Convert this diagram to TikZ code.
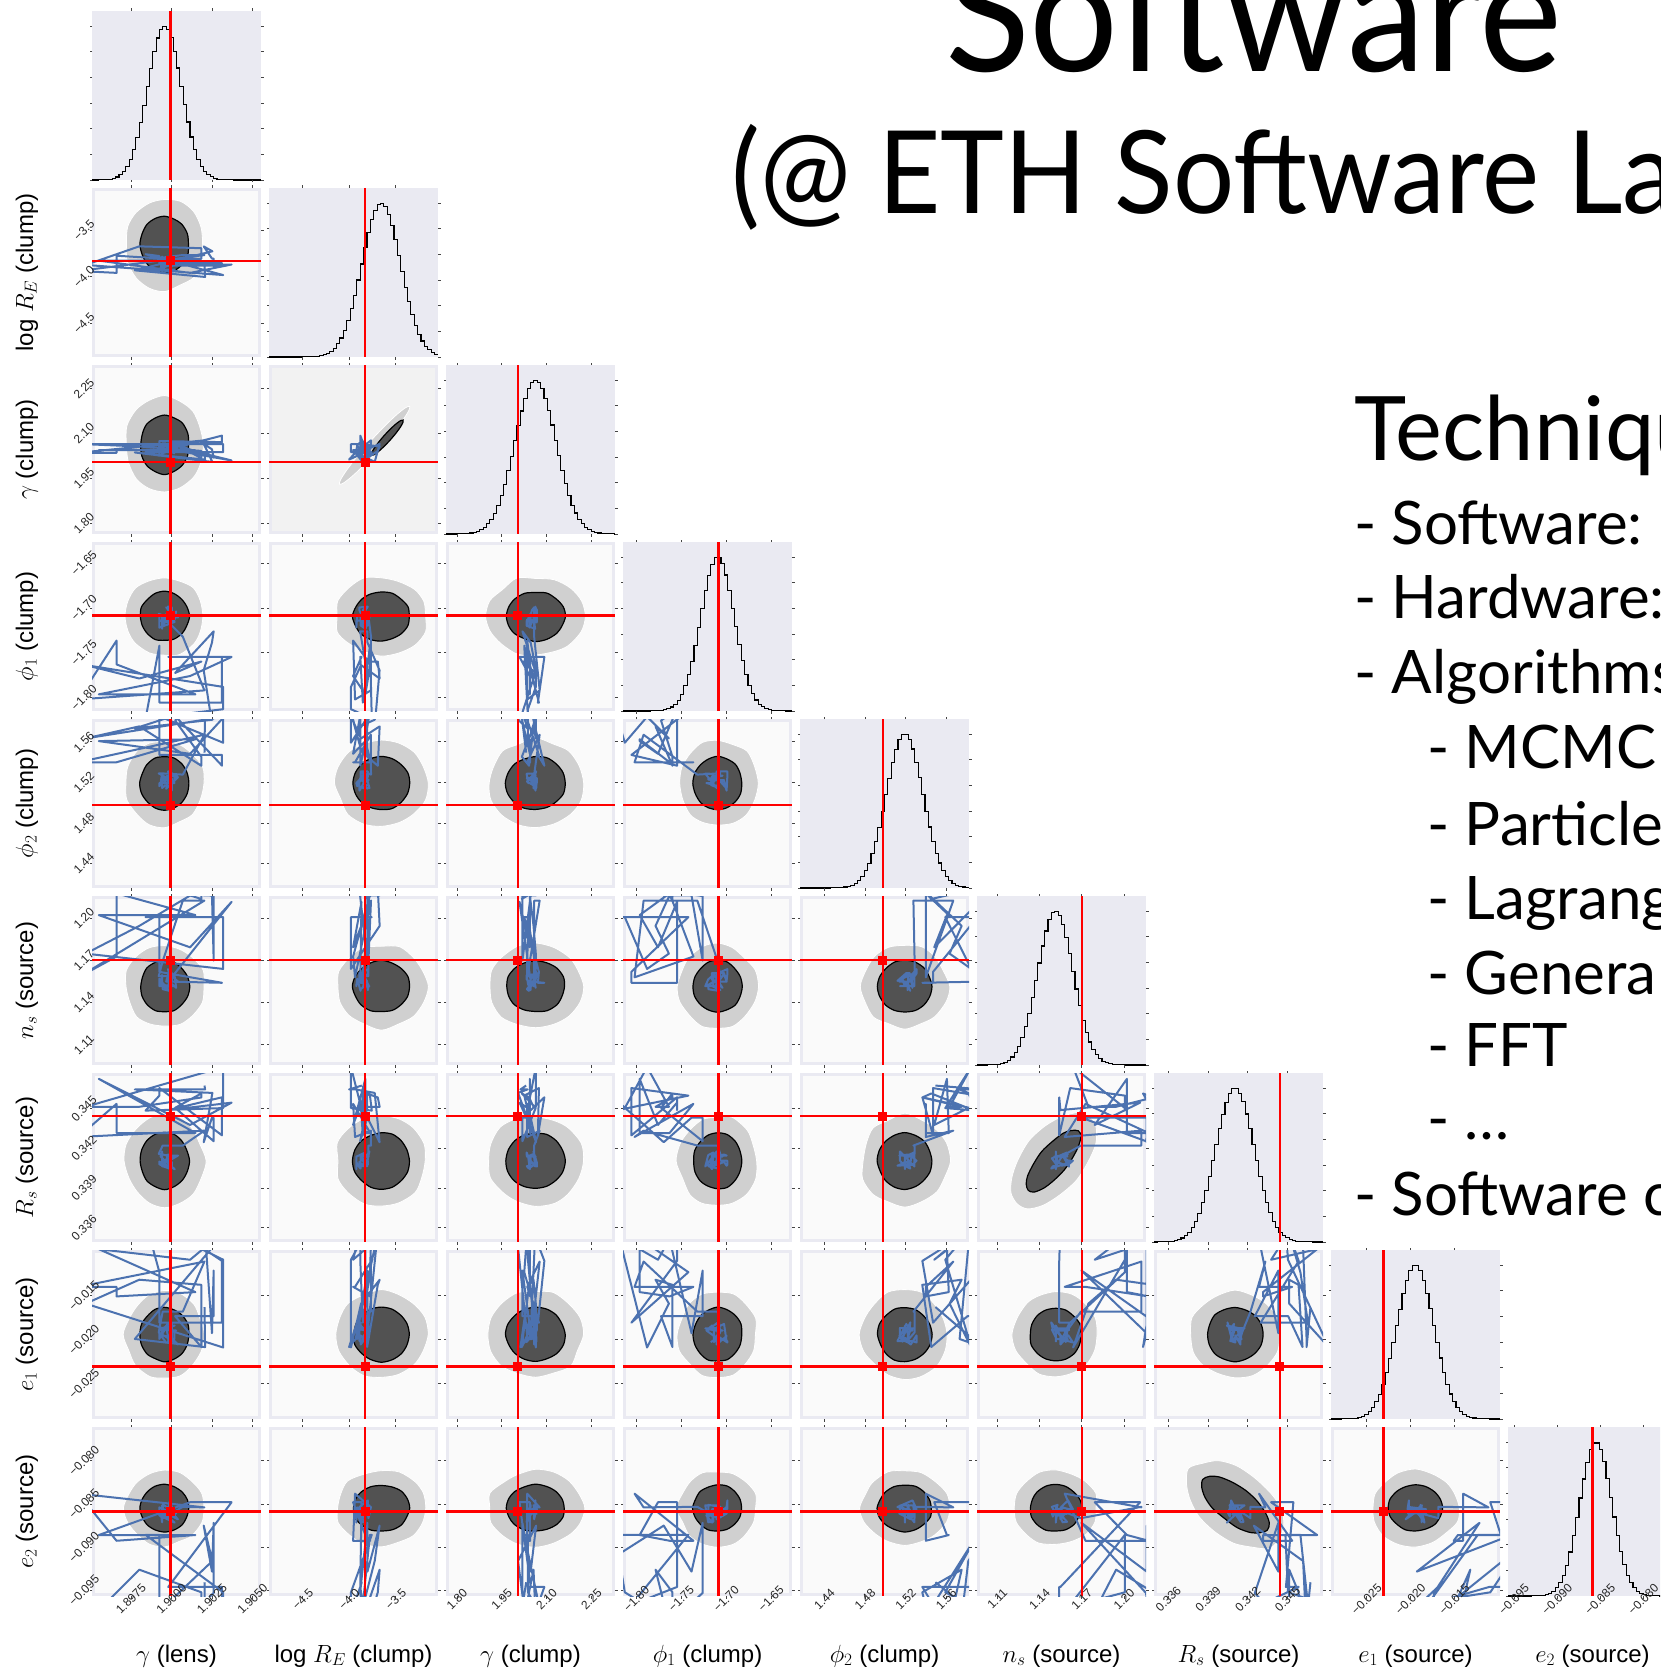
\documentclass[tikz,border=0pt]{standalone}
\usepackage{fontspec}
\newfontfamily\axfont{Liberation Sans}
\newfontfamily\gill{Lato}
\newfontfamily\gillhead{Lato}[FakeStretch=0.995]
\newfontfamily\gilltitle{Lato}[FakeStretch=0.94]

\definecolor{lavender}{HTML}{EAEAF2}
\definecolor{panelbg}{HTML}{FAFAFA}
\definecolor{panelbgnarrow}{HTML}{F2F2F2}
\definecolor{levellight}{HTML}{D0D0D0}
\definecolor{leveldark}{HTML}{525252}
\definecolor{chainblue}{HTML}{4C72B0}
\definecolor{truthred}{HTML}{FF0000}
\definecolor{tickgray}{HTML}{444444}

\newsavebox\tlbox
\newcommand\tickfont{\axfont\fontsize{12}{12}\selectfont}
\newcommand\axisfont{\axfont\fontsize{24}{26}\selectfont}
\newcommand\cv[2]{\csname cv#1:#2\endcsname}

% per-parameter data (relative axis positions)
\def\truthlist{{0.465,0.57,0.425,0.565,0.49,0.62,0.745,0.31,0.50}}
\def\centerlist{{0.43,0.665,0.53,0.56,0.62,0.465,0.48,0.50,0.52}}
\def\sigmalist{{0.10,0.115,0.12,0.10,0.11,0.105,0.115,0.11,0.095}}
\expandafter\def\csname tk1\endcsname{0.23/1.8975,0.47/1.9000,0.71/1.9025,0.95/1.9050}
\expandafter\def\csname tk2\endcsname{0.20/−4.5,0.475/−4.0,0.75/−3.5}
\expandafter\def\csname tk3\endcsname{0.065/1.80,0.33/1.95,0.595/2.10,0.86/2.25}
\expandafter\def\csname tk4\endcsname{0.08/−1.80,0.345/−1.75,0.61/−1.70,0.875/−1.65}
\expandafter\def\csname tk5\endcsname{0.145/1.44,0.385/1.48,0.625/1.52,0.865/1.56}
\expandafter\def\csname tk6\endcsname{0.12/1.11,0.37/1.14,0.62/1.17,0.87/1.20}
\expandafter\def\csname tk7\endcsname{0.085/0.336,0.32/0.339,0.555/0.342,0.79/0.345}
\expandafter\def\csname tk8\endcsname{0.21/−0.025,0.47/−0.020,0.73/−0.015}
\expandafter\def\csname tk9\endcsname{0.035/−0.095,0.29/−0.090,0.545/−0.085,0.80/−0.080}

% closed lumpy contour level
\newcommand\levelshape[7]{%
  \begin{scope}[shift={({#1},{#2})}, rotate=#5]
    \path[#7] plot[smooth cycle, samples=16, domain=0:337.5]
      ({(#3)*(1+(#6)*rand)*cos(\x)}, {(#4)*(1+(#6)*rand)*sin(\x)});
  \end{scope}}

\newcommand\bottomticklabel[3]{%
  \sbox\tlbox{\tickfont #3}%
  \pgfmathsetmacro\tlo{0.7071*(\the\wd\tlbox+\the\ht\tlbox+\the\dp\tlbox)/2}%
  \node[ticklabel, rotate=45] (#1) at (#2, {1599+\tlo}) {#3};}
\newcommand\leftticklabel[3]{%
  \sbox\tlbox{\tickfont #3}%
  \pgfmathsetmacro\tlo{0.7071*(\the\wd\tlbox+\the\ht\tlbox+\the\dp\tlbox)/2}%
  \node[ticklabel, rotate=45] (#1) at ({84-\tlo}, #2) {#3};}

\begin{document}
\begin{tikzpicture}[x=1pt, y=-1pt,
  histline/.style={draw=black, line width=1.1pt, const plot},
  truthline/.style={draw=truthred, line width=2.3pt},
  chainline/.style={draw=chainblue, line width=2pt, line join=round},
  tickmark/.style={draw=tickgray, line width=0.7pt},
  ticklabel/.style={font=\tickfont, inner sep=0pt, text=black!85},
  axislabel/.style={font=\axisfont, inner sep=0pt},
  outerlevel/.style={fill=levellight, draw=white, line width=0.8pt},
  innerlevel/.style={fill=leveldark, draw=black, line width=1.2pt},
  slidetext/.style={inner sep=0pt, anchor=base west, text=black}]

\useasboundingbox (0,0) rectangle (1660,1672);
\clip (0,0) rectangle (1660,1672);
\fill[white] (0,0) rectangle (1660,1672);

% one sampler chain through the nine parameters (mostly joint updates)
\pgfmathsetseed{4242}
\foreach \vk/\vc/\vb/\va/\vl in {1/0.45/0/0.7/0.09, 2/0.56/0/0.12/0.05,
    3/0.50/0/0.10/0.05, 4/0.55/-0.3/0.4/0.09, 5/0.62/0.3/0.3/0.09,
    6/0.50/0.3/0.4/0.09, 7/0.50/0.3/0.35/0.09, 8/0.50/0.2/0.6/0.09,
    9/0.50/-0.2/0.6/0.09} {
  \pgfmathsetmacro\vnew{\vc+(\vb)+(\va)*rand}
  \expandafter\xdef\csname cv\vk:0\endcsname{\vnew}
  \foreach \st in {1,...,59} {
    \pgfmathtruncatemacro\tp{\st-1}
    \ifnum\st<29 \def\vbb{\vb}\def\vaa{\va}\else\def\vbb{0}\def\vaa{\vl}\fi
    \pgfmathsetmacro\flip{rand}
    \ifdim\flip pt>-0.6pt
      \pgfmathsetmacro\vnew{0.3*(\csname cv\vk:\tp\endcsname)+0.7*(\vc+(\vbb)+(\vaa)*rand)}
    \else
      \edef\vnew{\csname cv\vk:\tp\endcsname}
    \fi
    \expandafter\xdef\csname cv\vk:\st\endcsname{\vnew}
  }
}

% corner plot panels
\foreach \i in {1,...,9} {
  \foreach \j in {1,...,\i} {
    \pgfmathsetmacro\px{92+177*(\j-1)}
    \pgfmathsetmacro\py{11+177*(\i-1)}
    \pgfmathsetmacro\tj{\truthlist[\j-1]}
    \pgfmathsetmacro\ti{\truthlist[\i-1]}
    \pgfmathsetmacro\cj{\centerlist[\j-1]}
    \pgfmathsetmacro\ci{\centerlist[\i-1]}
    \pgfmathsetmacro\sj{\sigmalist[\j-1]}
    \pgfmathsetmacro\si{\sigmalist[\i-1]}
    \pgfmathtruncatemacro\pid{10*\i+\j}
    \expandafter\let\expandafter\colticks\csname tk\j\endcsname
    \expandafter\let\expandafter\rowticks\csname tk\i\endcsname
    \begin{scope}[shift={(\px,\py)}, x=169pt, y=-169pt]
      \ifnum\i=\j
        \fill[lavender] (0,0) rectangle (1,1);
        \draw[histline] plot[domain=0:1, samples=51]
          (\x, {1-0.91*exp(-min(30,((\x+0.01-\cj)^2)/(2*\sj*\sj)))});
        \draw[truthline] (\tj,0) -- (\tj,1);
        \foreach \h in {0,0.152,0.304,0.456,0.608,0.76,0.912} {
          \draw[tickmark] (0,{1-\h}) -- ++(-2.5pt,0pt);
          \draw[tickmark] (1,{1-\h}) -- ++(2.5pt,0pt);
        }
      \else
        \fill[lavender] (0,0) rectangle (1,1);
        \ifnum\pid=32
          \fill[panelbgnarrow] (0.018,0.018) rectangle (0.982,0.982);
          \levelshape{0.625}{0.475}{0.31}{0.035}{48}{0}{outerlevel}
          \levelshape{0.70}{0.43}{0.14}{0.022}{48}{0}{innerlevel}
        \else
          \fill[panelbg] (0.018,0.018) rectangle (0.982,0.982);
          \ifnum\pid=76
            \levelshape{0.45}{0.52}{0.33}{0.18}{50}{0.04}{outerlevel}
            \levelshape{0.45}{0.52}{0.23}{0.085}{50}{0.03}{innerlevel}
          \else\ifnum\pid=97
            \levelshape{0.48}{0.46}{0.34}{0.2}{-38}{0.04}{outerlevel}
            \levelshape{0.48}{0.46}{0.24}{0.105}{-38}{0.03}{innerlevel}
          \else
            \levelshape{\cj}{1-\ci}{2.35*\sj}{2.35*\si}{0}{0.05}{outerlevel}
            \levelshape{\cj}{1-\ci}{1.45*\sj}{1.45*\si}{0}{0.03}{innerlevel}
          \fi\fi
        \fi
        \begin{scope}
          \clip (0,0) rectangle (1,1);
          \draw[chainline] ({\cv{\j}{0}},{1-(\cv{\i}{0})})
            \foreach \st in {1,...,59}{ -- ({\cv{\j}{\st}},{1-(\cv{\i}{\st})}) };
        \end{scope}
        \draw[truthline] (\tj,0) -- (\tj,1);
        \draw[truthline] (0,{1-\ti}) -- (1,{1-\ti});
        \fill[truthred] (\tj,{1-\ti}) ++(-4.5pt,-4.5pt) rectangle ++(9pt,9pt);
        \foreach \p/\lab in \rowticks {
          \draw[tickmark] (0,{1-\p}) -- ++(-2.5pt,0pt);
          \draw[tickmark] (1,{1-\p}) -- ++(2.5pt,0pt);
        }
      \fi
      \foreach \p/\lab in \colticks {
        \draw[tickmark] (\p,0) -- ++(0pt,2.5pt);
        \draw[tickmark] (\p,1) -- ++(0pt,-2.5pt);
      }
    \end{scope}
  }
}

% tick labels
\foreach \j in {1,...,9} {
  \expandafter\let\expandafter\colticks\csname tk\j\endcsname
  \foreach \p/\lab [count=\n] in \colticks {
    \pgfmathsetmacro\tx{92+177*(\j-1)+169*\p}
    \bottomticklabel{xt-\j-\n}{\tx}{\lab}
  }
}
\foreach \i in {2,...,9} {
  \expandafter\let\expandafter\rowticks\csname tk\i\endcsname
  \foreach \p/\lab [count=\n] in \rowticks {
    \pgfmathsetmacro\ty{11+177*(\i-1)+169*(1-\p)}
    \leftticklabel{yt-\i-\n}{\ty}{\lab}
  }
}

% axis labels
\node[axislabel, anchor=base] (xl-1) at (176.5,1662) {$\gamma$ (lens)};
\node[axislabel, anchor=base] (xl-2) at (353.5,1662) {log $R_E$ (clump)};
\node[axislabel, anchor=base] (xl-3) at (530.5,1662) {$\gamma$ (clump)};
\node[axislabel, anchor=base] (xl-4) at (707.5,1662) {$\phi_1$ (clump)};
\node[axislabel, anchor=base] (xl-5) at (884.5,1662) {$\phi_2$ (clump)};
\node[axislabel, anchor=base] (xl-6) at (1061.5,1662) {$n_s$ (source)};
\node[axislabel, anchor=base] (xl-7) at (1238.5,1662) {$R_s$ (source)};
\node[axislabel, anchor=base] (xl-8) at (1415.5,1662) {$e_1$ (source)};
\node[axislabel, anchor=base] (xl-9) at (1592.5,1662) {$e_2$ (source)};

\node[axislabel, anchor=base, rotate=90] (yl-2) at (33,272.5) {log $R_E$ (clump)};
\node[axislabel, anchor=base, rotate=90] (yl-3) at (33,449.5) {$\gamma$ (clump)};
\node[axislabel, anchor=base, rotate=90] (yl-4) at (33,626.5) {$\phi_1$ (clump)};
\node[axislabel, anchor=base, rotate=90] (yl-5) at (33,803.5) {$\phi_2$ (clump)};
\node[axislabel, anchor=base, rotate=90] (yl-6) at (33,980.5) {$n_s$ (source)};
\node[axislabel, anchor=base, rotate=90] (yl-7) at (33,1157.5) {$R_s$ (source)};
\node[axislabel, anchor=base, rotate=90] (yl-8) at (33,1334.5) {$e_1$ (source)};
\node[axislabel, anchor=base, rotate=90] (yl-9) at (33,1511.5) {$e_2$ (source)};

% slide text
\node[slidetext, font=\gilltitle\fontsize{167}{167}\selectfont] (title-main) at (945,72) {Software};
\node[slidetext, font=\gilltitle\fontsize{115}{115}\selectfont] (title-sub) at (731,213) {(@ ETH Software La};
\node[slidetext, font=\gillhead\fontsize{89}{89}\selectfont] (sec-head) at (1354,460) {Techniqu};
\node[slidetext, font=\gill\fontsize{60}{60}\selectfont] (it-sw) at (1354,544) {- Software: C};
\node[slidetext, font=\gill\fontsize{60}{60}\selectfont] (it-hw) at (1354,618) {- Hardware:};
\node[slidetext, font=\gill\fontsize{60}{60}\selectfont] (it-alg) at (1354,693) {- Algorithms};
\node[slidetext, font=\gill\fontsize{60}{60}\selectfont] (it-mcmc) at (1427,768) {- MCMC};
\node[slidetext, font=\gill\fontsize{60}{60}\selectfont] (it-part) at (1427,845) {- Particle};
\node[slidetext, font=\gill\fontsize{60}{60}\selectfont] (it-lag) at (1427,919) {- Lagrang};
\node[slidetext, font=\gill\fontsize{60}{60}\selectfont] (it-gen) at (1427,994) {- Genera};
\node[slidetext, font=\gill\fontsize{60}{60}\selectfont] (it-fft) at (1427,1066) {- FFT};
\node[slidetext, font=\gill\fontsize{60}{60}\selectfont] (it-etc) at (1427,1139) {- …};
\node[slidetext, font=\gill\fontsize{60}{60}\selectfont] (it-swc) at (1354,1215) {- Software c};
\end{tikzpicture}
\end{document}
